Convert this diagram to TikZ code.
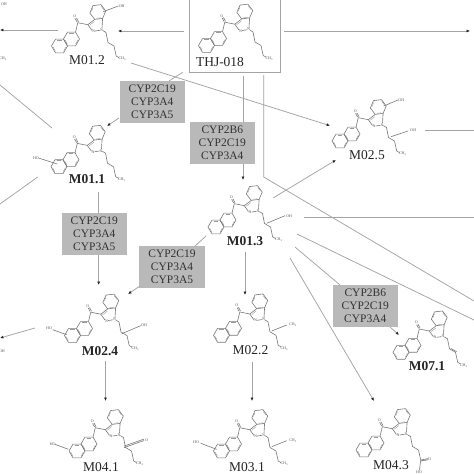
\documentclass[tikz,border=0pt]{standalone}
\usepackage{fontspec}
\setmainfont{Liberation Serif}
\usetikzlibrary{arrows.meta,calc}
\definecolor{linegray}{HTML}{A4A4A4}
\definecolor{molgray}{HTML}{787878}
\definecolor{boxgray}{HTML}{B9B9B9}
\tikzset{
  x=1pt,y=-1pt,
  conn/.style={draw=linegray,line width=0.75pt},
  arr/.style={conn,-{Latex[length=3.4pt,width=3pt,color=black!85]}},
  enzyme/.style={fill=boxgray,inner sep=0pt,minimum width=65.5pt,minimum height=42pt,align=center,font=\fontsize{11.5}{13}\selectfont,text=black!80},
  bond/.style={draw=molgray,line width=0.6pt},
  innerbond/.style={draw=molgray!75,line width=0.4pt},
  atomlbl/.style={font=\fontsize{4}{4.5}\selectfont,text=black!65,inner sep=0pt},
  namelbl/.style={font=\fontsize{13.5}{15}\selectfont,text=black!85,inner sep=0pt},
  boldlbl/.style={namelbl,font=\fontsize{13.5}{15}\selectfont\bfseries}
}
\newcommand{\hexa}[3]{%
  \draw[bond] (#1,#2) ++(#3:8) -- ++({#3+120}:8) -- ++({#3+180}:8) -- ++({#3+240}:8) -- ++({#3+300}:8) -- ++({#3+360}:8) -- cycle;
  \foreach \k in {0,120,240}{
    \draw[innerbond] ($(#1,#2)+({#3+\k+10}:6.5)$) -- ($(#1,#2)+({#3+\k+50}:6.5)$);
  }%
}
\newcommand{\core}{%
  \hexa{-30}{9}{0}
  \hexa{-42}{16}{0}
  \hexa{-3.7}{-18}{53}
  \draw[bond] (-26,2.1) -- (-23.7,-7.3) -- (-13.7,-5.3) -- (-9.6,0.4) (-6.3,1) -- (-1.6,0.3);
  \draw[bond] (-13.7,-5.3) -- (-6.8,-10.6);
  \draw[innerbond] (-11.8,-4.8) -- (-7.2,-8.4);
  \draw[bond] (1.1,-11.6) -- (0.5,-1.8);
  \draw[bond] (-24.4,-8) -- (-26.4,-11.6) (-23,-8.3) -- (-25,-12.1);
  \node[atomlbl] at (-26.8,-13.8) {O};
  \node[atomlbl] at (-8,1.2) {N};
  \node[atomlbl] at (0,0) {N};
}
\newcommand{\chainfive}{%
  \draw[bond] (1.4,0.6) -- (4.5,2.5) -- (6.5,12.5) -- (12.5,16) -- (14.7,26) -- (17.5,27.6);
  \node[atomlbl] at (20.8,29) {CH\textsubscript{3}};
}
\begin{document}
\begin{tikzpicture}
\useasboundingbox (0,0) rectangle (474,474);
\fill[white] (0,0) rectangle (474,474);
\draw[draw=linegray,line width=0.75pt] (189,-2) -- (189,72) -- (280,72) -- (280,-2);
% molecules
\begin{scope}[shift={(101.5,30)}] \core \chainfive
  \draw[bond] (1.8,-18.3) -- (16.8,-24); \node[atomlbl] at (20.2,-24.3) {OH};
\end{scope}
\begin{scope}[shift={(248.5,29.5)}] \core \chainfive \end{scope}
\begin{scope}[shift={(101,150.7)}] \core \chainfive
  \draw[bond] (-43.7,13.3) -- (-61.7,7.6); \node[atomlbl] at (-65,7) {HO};
\end{scope}
\begin{scope}[shift={(382,125)}] \core \chainfive
  \draw[bond] (1.7,-19) -- (16,-25); \node[atomlbl] at (19.3,-25.3) {OH};
  \draw[bond] (9,11.7) -- (26,6); \node[atomlbl] at (31.3,5.3) {OH};
\end{scope}
\begin{scope}[shift={(258,211)}] \core \chainfive
  \draw[bond] (8.7,12.3) -- (27,4.7); \node[atomlbl] at (31,4.7) {OH};
\end{scope}
\begin{scope}[shift={(114.5,319.5)}] \core \chainfive
  \draw[bond] (-47.8,15.2) -- (-61.8,10.2); \node[atomlbl] at (-65.5,8.8) {HO};
  \draw[bond] (7.2,14.2) -- (26.2,6.2); \node[atomlbl] at (29.5,5.5) {OH};
\end{scope}
\begin{scope}[shift={(119,435)}] \core \chainfive
  \draw[bond] (-50.7,14.3) -- (-64,9.3); \node[atomlbl] at (-66.3,8.7) {HO};
  \draw[bond] (5,12.6) -- (25,5.6) (5,11.1) -- (25,4.1); \node[atomlbl] at (27.5,4.9) {O};
\end{scope}
\begin{scope}[shift={(263.5,319.3)}] \core \chainfive
  \draw[bond] (8.2,11.7) -- (23.2,5.7); \node[atomlbl] at (29.5,5.7) {CH\textsubscript{3}};
\end{scope}
\begin{scope}[shift={(263.5,435)}] \core \chainfive
  \draw[bond] (8.2,11.7) -- (23.2,5.7); \node[atomlbl] at (29.5,5.7) {CH\textsubscript{3}};
  \draw[bond] (-46.8,14.3) -- (-62.8,8.3); \node[atomlbl] at (-67.5,7.3) {HO};
\end{scope}
\begin{scope}[shift={(443,336.3)}] \core \chainfive
  \draw[bond] (7.9,12.1) -- (13.6,15.4);
\end{scope}
\begin{scope}[shift={(406,434)}] \core
  \draw[bond] (1.4,0.6) -- (4.5,2.5) -- (6.5,12.5) -- (12.5,16) -- (14.7,26) -- (22,24.6) (14.9,27) -- (22,25.8) (14.7,26) -- (13.5,36);
  \node[atomlbl] at (23.5,25) {O};
  \node[atomlbl] at (13,38) {HO};
\end{scope}
% labels
\node[namelbl] (n012) at (87,60) {M01.2};
\node[namelbl] (nthj) at (220,62.5) {THJ-018};
\node[boldlbl] (n011) at (87,179) {M01.1};
\node[namelbl] (n025) at (367,155) {M02.5};
\node[boldlbl] (n013) at (245,241) {M01.3};
\node[boldlbl] (n024) at (100,351) {M02.4};
\node[namelbl] (n022) at (250.5,350) {M02.2};
\node[boldlbl] (n071) at (427,366) {M07.1};
\node[namelbl] (n041) at (101,467) {M04.1};
\node[namelbl] (n031) at (247,467) {M03.1};
\node[namelbl] (n043) at (391,465) {M04.3};
% enzymes
\node[enzyme] (e1) at (152.3,102) {CYP2C19\\CYP3A4\\CYP3A5};
\node[enzyme] (e2) at (222.3,143) {CYP2B6\\CYP2C19\\CYP3A4};
\node[enzyme] (e3) at (94.3,234) {CYP2C19\\CYP3A4\\CYP3A5};
\node[enzyme] (e4) at (172,267) {CYP2C19\\CYP3A4\\CYP3A5};
\node[enzyme] (e5) at (365.3,306) {CYP2B6\\CYP2C19\\CYP3A4};
% free ends
\foreach \n/\x/\y in {a/184/31,b/118/31,c/58/30,d/0/30,e/284/31,f/470/31,g/182.7/72.3,h/169/81,i/119/118,j/107/126,
  k/131/63,l/330/125.7,m/243/76,n/243/122,o/243/164,p/243/180,q/263.7/75,r/263.7/177,s/474/301,t/273/198,u/336/160,
  v/425/130,w/474/130,x/304/217,y/474/217,z/297/234,aa/474/320,ab/295/247,ac/340/285,ad/390/327,ae/399/335,
  af/290/258,ag/374/401,ah/245/252,ai/245/295,aj/252/362,ak/252/401,al/206/236,am/195/246,an/140/286,ao/128/294,
  ap/98.7/192,aq/98.7/213,ar/98.7/255,as/98.7/285,at/105.5/361,au/105.5/401,av/35/328,aw/0/338,ax/0/85,ay/52/128,az/37.7/177,ba/0/204}
  {\coordinate (\n) at (\x,\y);}
\draw[arr] (a) -- (b);
\draw[arr] (c) -- (d);
\draw[arr] (e) -- (f);
\draw[conn] (g) -- (h);
\draw[arr] (i) -- (j);
\draw[arr] (k) -- (l);
\draw[conn] (m) -- (n);
\draw[arr] (o) -- (p);
\draw[conn] (q) -- (r) -- (s);
\draw[arr] (t) -- (u);
\draw[conn] (v) -- (w);
\draw[conn] (x) -- (y);
\draw[conn] (z) -- (aa);
\draw[conn] (ab) -- (ac);
\draw[arr] (ad) -- (ae);
\draw[arr] (af) -- (ag);
\draw[arr] (ah) -- (ai);
\draw[arr] (aj) -- (ak);
\draw[conn] (al) -- (am);
\draw[arr] (an) -- (ao);
\draw[conn] (ap) -- (aq);
\draw[arr] (ar) -- (as);
\draw[arr] (at) -- (au);
\draw[arr] (av) -- (aw);
\draw[conn] (ax) -- (ay);
\draw[conn] (az) -- (ba);
% clipped fragments at the left edge
\node[atomlbl] at (3,59) {CH\textsubscript{3}};
\node[atomlbl] at (2,351) {OH};
\node[atomlbl] at (4,4) {OH};
\end{tikzpicture}
\end{document}
